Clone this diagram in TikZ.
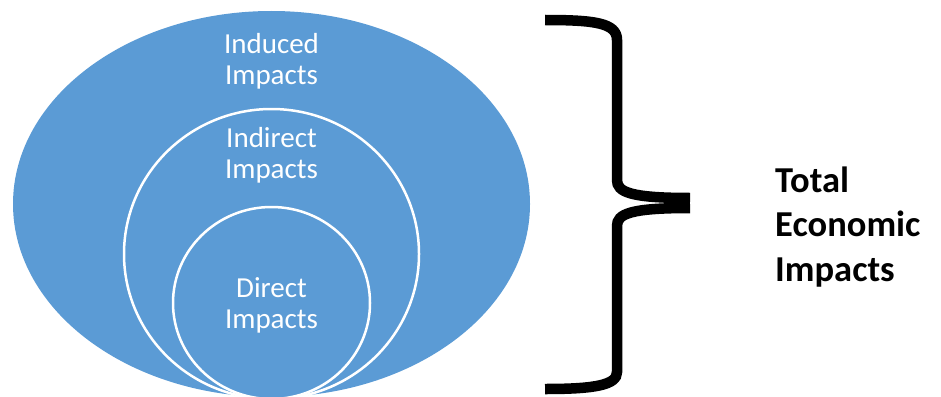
\documentclass[tikz,border=0pt]{standalone}
\usepackage{fontspec}
\setmainfont{Carlito}
\definecolor{ringblue}{HTML}{5B9BD5}
\begin{document}
\begin{tikzpicture}[x=1pt,y=-1pt,
  ring/.style={fill=ringblue, draw=white, line width=2.5pt},
  inlabel/.style={text=white, align=center, font=\fontsize{29}{31}\selectfont, inner sep=0pt},
  bracestroke/.style={line width=10.5pt, draw=black},
  totlabel/.style={align=left, font=\bfseries\fontsize{36.5}{44.5}\selectfont, inner sep=0pt}]
\useasboundingbox (0,0) rectangle (941,396);
\fill[ringblue] (271.5,204) ellipse [x radius=258.5, y radius=193];
\draw[ring] (271.5,254) ellipse [x radius=147.5, y radius=145];
\draw[ring] (271.5,303) ellipse [x radius=98.5, y radius=96];
\node[inlabel, anchor=base] (induced) at (271.5,84) {Induced\\Impacts};
\node[inlabel, anchor=base] (indirect) at (271.5,178) {Indirect\\Impacts};
\node[inlabel, anchor=base] (direct) at (271.5,328) {Direct\\Impacts};
\draw[bracestroke] (545,20) .. controls (595,20) and (617,23) .. (617,40) -- (617,180) .. controls (617,192) and (630,198) .. (690,198);
\draw[bracestroke] (690,208) .. controls (630,208) and (617,214) .. (617,226) -- (617,372) .. controls (617,385) and (595,389) .. (545,389);
\node[totlabel, anchor=base west] (total) at (775,281) {Total\\Economic\\Impacts};
\end{tikzpicture}
\end{document}
